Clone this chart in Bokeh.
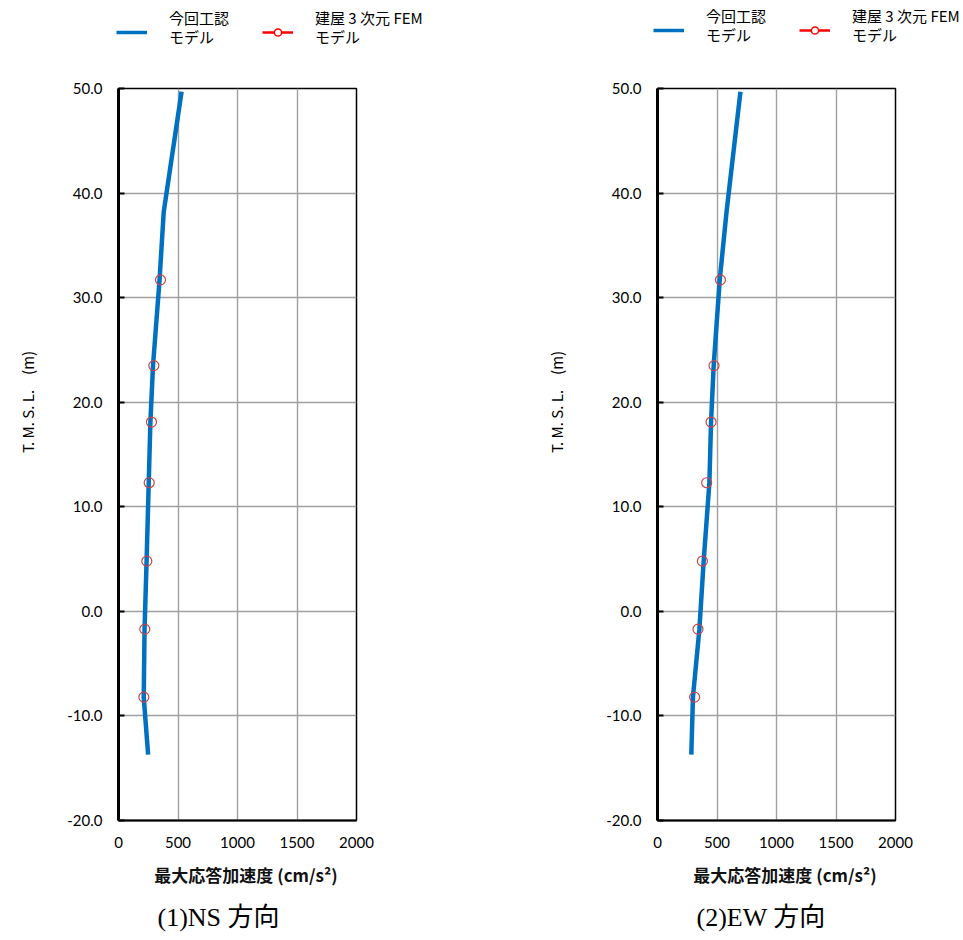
from bokeh.plotting import figure
from bokeh.models import (Legend, LegendItem, Range1d, FixedTicker, NumeralTickFormatter,
                          Title, ColumnDataSource)
from bokeh.layouts import row, column
from bokeh.embed import file_html
from bokeh.resources import INLINE

# ---- data ----
line_elev = [49.7, 38.2, 31.7, 23.5, 18.1, 12.3, 4.8, -1.7, -8.2, -13.7]
ns_line = [530, 380, 345, 290, 268, 254, 236, 219, 212, 249]
ew_line = [697, 580, 523, 472, 450, 436, 388, 352, 298, 284]

fem_elev = [31.7, 23.5, 18.1, 12.3, 4.8, -1.7, -8.2]
ns_fem = [353, 297, 277, 258, 238, 221, 213]
ew_fem = [529, 475, 450, 413, 377, 340, 312]

x_ticks = [0, 500, 1000, 1500, 2000]
y_ticks = [-20, -10, 0, 10, 20, 30, 40, 50]

# legend labels: first line / second line
series_line1 = ["今回工認", "建屋 3 次元 FEM"]
series_line2 = ["モデル", "モデル"]
captions = ["(1)NS 方向", "(2)EW 方向"]
x_label = "\u3000最大応答加速度 (cm/s²)"
y_label = "\u3000\u3000\u3000\u3000\u3000\u3000\u3000T. M. S. L.\u3000(m)"

BLUE = "#0070C0"
TICK_FONT = "Lato"
CJK = "Noto Sans CJK JP"
NAN = float("nan")


def _legend(items, x, y):
    return Legend(items=items, orientation="horizontal", location=(x, y),
                  border_line_color=None, background_fill_alpha=0,
                  padding=0, margin=0, spacing=23,
                  glyph_width=31, glyph_height=18, label_standoff=22, label_width=70,
                  label_height=18,
                  label_text_font=CJK, label_text_font_size="15px",
                  label_text_color="black", label_text_line_height=1.2)


def make_legend_fig(width, legend_xs):
    lf = figure(width=width, height=78, output_backend="svg", toolbar_location=None,
                x_range=Range1d(0, 1), y_range=Range1d(0, 1),
                min_border_left=0, min_border_right=0,
                min_border_top=0, min_border_bottom=0)
    lf.axis.visible = False
    lf.grid.visible = False
    lf.outline_line_color = None
    # legend-only renderers (NaN data -> nothing drawn)
    l_blue = lf.line(x=[NAN], y=[NAN], line_color=BLUE, line_width=3.5)
    l_red = lf.line(x=[NAN], y=[NAN], line_color="#FF0000", line_width=2.5)
    l_mark = lf.scatter(x=[NAN], y=[NAN], marker="circle", size=9, line_color="#FF0000",
                        line_width=1.5, fill_color="white")
    l_none = lf.line(x=[NAN], y=[NAN], line_alpha=0)

    for lx, (gy, ty, by) in zip(legend_xs, [(37, 50, 31), (39, 52, 33)]):
        glyph_leg = _legend([LegendItem(label=" ", renderers=[l_blue]),
                             LegendItem(label=" ", renderers=[l_red, l_mark])], lx, gy)
        top_leg = _legend([LegendItem(label=series_line1[0], renderers=[l_none]),
                           LegendItem(label=series_line1[1], renderers=[l_none])], lx, ty)
        bot_leg = _legend([LegendItem(label=series_line2[0], renderers=[l_none]),
                           LegendItem(label=series_line2[1], renderers=[l_none])], lx, by)
        for lg in (glyph_leg, top_leg, bot_leg):
            lf.add_layout(lg, "center")
    return lf


def make_panel(line_vals, fem_vals, caption, border_right, ylab_standoff):
    p = figure(frame_width=238, frame_height=732, output_backend="svg",
               toolbar_location=None,
               x_range=Range1d(0, 2000), y_range=Range1d(-20, 50),
               min_border_left=118, min_border_right=border_right,
               min_border_top=10, min_border_bottom=112)
    p.outline_line_color = "black"
    p.outline_line_width = 1.5
    p.background_fill_color = "white"
    p.border_fill_color = "white"

    # grid
    p.xgrid.ticker = FixedTicker(ticks=x_ticks)
    p.ygrid.ticker = FixedTicker(ticks=y_ticks)
    for g in (p.xgrid[0], p.ygrid[0]):
        g.grid_line_color = "#a0a0a0"
        g.grid_line_width = 1.4

    # axes
    xa = p.xaxis[0]
    xa.ticker = FixedTicker(ticks=x_ticks)
    xa.major_tick_in = 0
    xa.major_tick_out = 0
    xa.minor_tick_line_color = None
    xa.axis_line_color = "black"
    xa.axis_line_width = 2
    xa.major_label_text_font = TICK_FONT
    xa.major_label_text_font_size = "15px"
    xa.major_label_text_color = "black"
    xa.major_label_standoff = 16
    xa.axis_label = x_label
    xa.axis_label_text_font = CJK
    xa.axis_label_text_font_size = "17px"
    xa.axis_label_text_font_style = "bold"
    xa.axis_label_text_color = "#111111"
    xa.axis_label_standoff = 11

    ya = p.yaxis[0]
    ya.ticker = FixedTicker(ticks=y_ticks)
    ya.formatter = NumeralTickFormatter(format="0.0")
    ya.major_tick_in = 6
    ya.major_tick_out = 0
    ya.major_tick_line_width = 2
    ya.minor_tick_line_color = None
    ya.axis_line_color = "black"
    ya.axis_line_width = 3
    ya.major_label_text_font = TICK_FONT
    ya.major_label_text_font_size = "15px"
    ya.major_label_text_color = "black"
    ya.major_label_standoff = 16
    ya.axis_label = y_label
    ya.axis_label_text_font = CJK
    ya.axis_label_text_font_size = "15px"
    ya.axis_label_text_font_style = "normal"
    ya.axis_label_text_color = "black"
    ya.axis_label_standoff = ylab_standoff

    # data
    src_line = ColumnDataSource(dict(x=line_vals, y=line_elev))
    src_fem = ColumnDataSource(dict(x=fem_vals, y=fem_elev))
    p.line("x", "y", source=src_line, line_color=BLUE, line_width=4.5,
           line_join="round")
    p.scatter("x", "y", source=src_fem, marker="circle", size=10,
              line_color="#CC4444", line_width=1.2, fill_color=None)

    t = Title(text=caption, align="left", text_font="Liberation Serif, Noto Sans CJK JP",
              text_font_size="26px", text_font_style="normal", text_color="black",
              offset=39, standoff=22)
    p.add_layout(t, "below")
    return p


p1 = make_panel(ns_line, ns_fem, captions[0], 183, 26)
p2 = make_panel(ew_line, ew_fem, captions[1], 60, 36)
lfig = make_legend_fig(963, [116, 653])
layout = column(lfig, row(p1, p2))

open("out.html", "w").write(file_html(layout, INLINE))
